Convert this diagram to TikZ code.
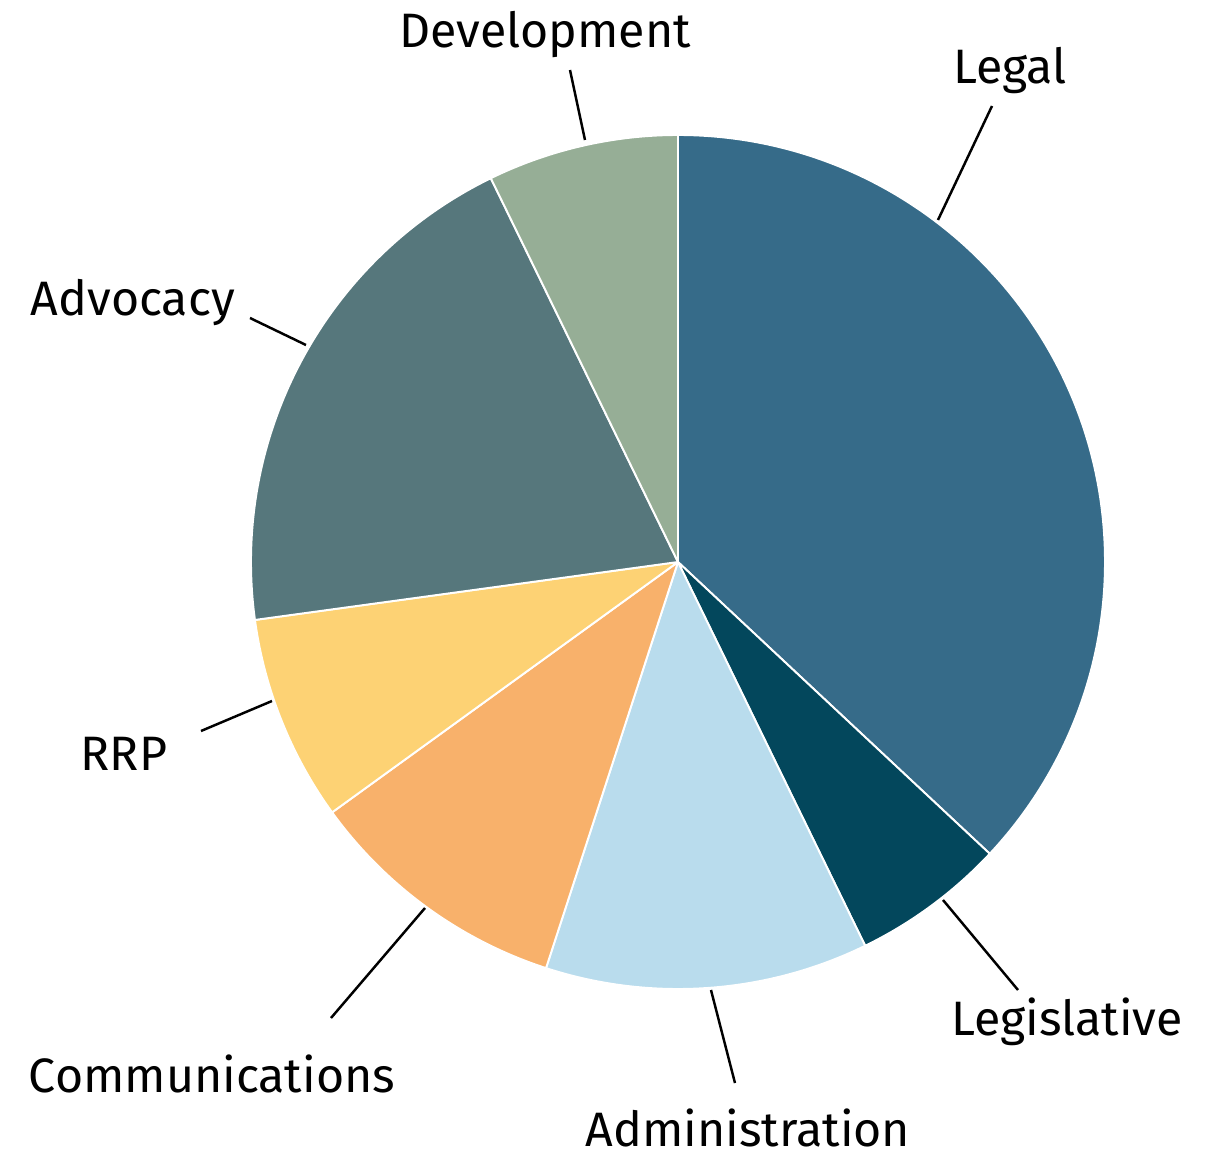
\documentclass[tikz,border=0pt]{standalone}
\usepackage{fontspec}
\setmainfont{Fira Sans}
\usepackage{tikz}
\definecolor{legalblue}{RGB}{54,107,137}
\definecolor{legisblue}{RGB}{3,71,92}
\definecolor{adminblue}{RGB}{185,220,237}
\definecolor{commorange}{RGB}{248,177,107}
\definecolor{rrpyellow}{RGB}{253,210,116}
\definecolor{advocgray}{RGB}{86,119,124}
\definecolor{devgreen}{RGB}{150,174,150}
\tikzset{
  slice/.style={draw=white, line width=1.1pt, line join=round},
  leader/.style={black, line width=1.4pt},
  lbl/.style={anchor=base, inner sep=0pt, font=\fontsize{27.5}{33}\selectfont}
}

\begin{document}
\begin{tikzpicture}[x=0.02cm, y=0.02cm]
			\useasboundingbox (-678,-595) rectangle (540,562);
			% slices, clockwise from the top
			\fill[legalblue, slice] (0,0) -- (90:427) arc[start angle=90, end angle=-43.1, radius=427] -- cycle;
			\fill[legisblue, slice] (0,0) -- (-43.1:427) arc[start angle=-43.1, end angle=-64.0, radius=427] -- cycle;
			\fill[adminblue, slice] (0,0) -- (-64.0:427) arc[start angle=-64.0, end angle=-108.0, radius=427] -- cycle;
			\fill[commorange, slice] (0,0) -- (-108.0:427) arc[start angle=-108.0, end angle=-144.1, radius=427] -- cycle;
			\fill[rrpyellow, slice] (0,0) -- (-144.1:427) arc[start angle=-144.1, end angle=-172.2, radius=427] -- cycle;
			\fill[advocgray, slice] (0,0) -- (-172.2:427) arc[start angle=-172.2, end angle=-244.0, radius=427] -- cycle;
			\fill[devgreen, slice] (0,0) -- (-244.0:427) arc[start angle=-244.0, end angle=-270, radius=427] -- cycle;
			% labels
			\node[lbl] (legal) at (332,478) {Legal};
			\node[lbl] (legis) at (389,-473) {Legislative};
			\node[lbl] (admin) at (70,-584) {Administration};
			\node[lbl] (comm) at (-466,-530) {Communications};
			\node[lbl] (rrp) at (-554,-208) {RRP};
			\node[lbl] (advoc) at (-545,247) {Advocacy};
			\node[lbl] (dev) at (-133,514) {Development};
			% leader lines
			\coordinate (legal-a) at (260,342);   \coordinate (legal-b) at (314,456);
			\coordinate (legis-a) at (265,-338);  \coordinate (legis-b) at (340,-428);
			\coordinate (admin-a) at (33,-428);   \coordinate (admin-b) at (57,-521);
			\coordinate (comm-a) at (-253,-346);  \coordinate (comm-b) at (-347,-456);
			\coordinate (rrp-a) at (-406,-139);   \coordinate (rrp-b) at (-477,-169);
			\coordinate (advoc-a) at (-372,217);  \coordinate (advoc-b) at (-428,244);
			\coordinate (dev-a) at (-93,422);     \coordinate (dev-b) at (-108,492);
			\draw[leader] (legal-a) -- (legal-b);
			\draw[leader] (legis-a) -- (legis-b);
			\draw[leader] (admin-a) -- (admin-b);
			\draw[leader] (comm-a) -- (comm-b);
			\draw[leader] (rrp-a) -- (rrp-b);
			\draw[leader] (advoc-a) -- (advoc-b);
			\draw[leader] (dev-a) -- (dev-b);
		\end{tikzpicture}
\end{document}
